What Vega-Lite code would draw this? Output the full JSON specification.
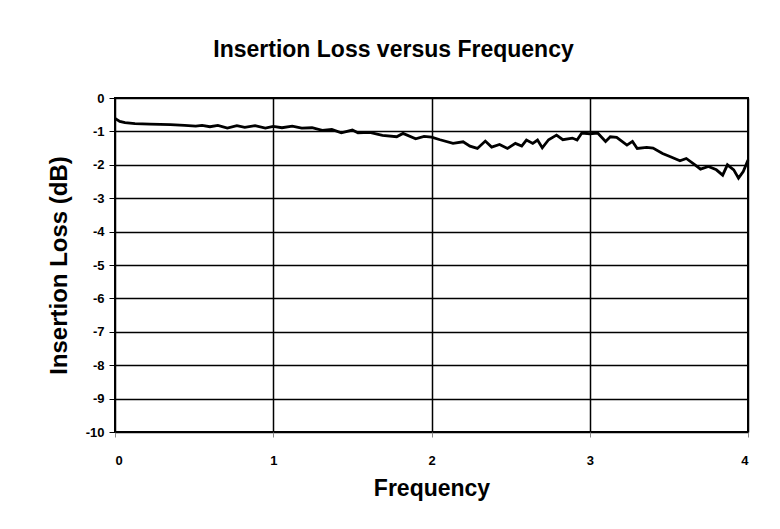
{
  "$schema": "https://vega.github.io/schema/vega-lite/v6.json",
  "width": 633,
  "height": 334,
  "autosize": {"type": "none"},
  "padding": {"left": 115, "top": 98, "right": 32, "bottom": 97},
  "background": "white",
  "title": {
    "text": "Insertion Loss versus Frequency",
    "font": "Liberation Sans",
    "fontSize": 23,
    "fontWeight": "bold",
    "color": "black",
    "anchor": "middle",
    "offset": 30,
    "dx": -38
  },
  "config": {
    "view": {"stroke": "black", "strokeWidth": 2},
    "axis": {
      "labelFont": "Liberation Sans",
      "labelFontSize": 13,
      "labelFontWeight": "bold",
      "labelColor": "black",
      "titleFont": "Liberation Sans",
      "titleFontSize": 23,
      "titleFontWeight": "bold",
      "titleColor": "black",
      "gridColor": "black",
      "gridWidth": 1.5,
      "gridOpacity": 1,
      "domain": false,
      "tickColor": "black",
      "tickSize": 6,
      "labelExpr": "'' + datum.value"
    }
  },
  "data": {
    "values": [
      {"f": 0.0, "loss": -0.61},
      {"f": 0.03, "loss": -0.70},
      {"f": 0.063, "loss": -0.74},
      {"f": 0.126, "loss": -0.77},
      {"f": 0.22, "loss": -0.78},
      {"f": 0.35, "loss": -0.80},
      {"f": 0.44, "loss": -0.82},
      {"f": 0.51, "loss": -0.84},
      {"f": 0.55, "loss": -0.82},
      {"f": 0.60, "loss": -0.86},
      {"f": 0.65, "loss": -0.82},
      {"f": 0.71, "loss": -0.90},
      {"f": 0.77, "loss": -0.83},
      {"f": 0.82, "loss": -0.88},
      {"f": 0.885, "loss": -0.83},
      {"f": 0.95, "loss": -0.90},
      {"f": 1.0, "loss": -0.85},
      {"f": 1.055, "loss": -0.89},
      {"f": 1.12, "loss": -0.84},
      {"f": 1.18, "loss": -0.90},
      {"f": 1.245, "loss": -0.89},
      {"f": 1.31, "loss": -0.97},
      {"f": 1.37, "loss": -0.94},
      {"f": 1.43, "loss": -1.04},
      {"f": 1.50, "loss": -0.96},
      {"f": 1.535, "loss": -1.04},
      {"f": 1.61, "loss": -1.03},
      {"f": 1.69, "loss": -1.12},
      {"f": 1.78, "loss": -1.16},
      {"f": 1.82, "loss": -1.06},
      {"f": 1.90, "loss": -1.22},
      {"f": 1.953, "loss": -1.15},
      {"f": 2.0, "loss": -1.17},
      {"f": 2.054, "loss": -1.25},
      {"f": 2.136, "loss": -1.36},
      {"f": 2.20, "loss": -1.31},
      {"f": 2.243, "loss": -1.44},
      {"f": 2.29, "loss": -1.51},
      {"f": 2.34, "loss": -1.29},
      {"f": 2.38, "loss": -1.47},
      {"f": 2.43, "loss": -1.39},
      {"f": 2.48, "loss": -1.51},
      {"f": 2.53, "loss": -1.36},
      {"f": 2.57, "loss": -1.44},
      {"f": 2.60, "loss": -1.26},
      {"f": 2.64, "loss": -1.36},
      {"f": 2.67, "loss": -1.26},
      {"f": 2.70, "loss": -1.49},
      {"f": 2.74, "loss": -1.25},
      {"f": 2.79, "loss": -1.11},
      {"f": 2.83, "loss": -1.25},
      {"f": 2.89, "loss": -1.20},
      {"f": 2.92, "loss": -1.26},
      {"f": 2.95, "loss": -1.05},
      {"f": 3.0, "loss": -1.07},
      {"f": 3.05, "loss": -1.05},
      {"f": 3.10, "loss": -1.30},
      {"f": 3.13, "loss": -1.16},
      {"f": 3.17, "loss": -1.18},
      {"f": 3.235, "loss": -1.41},
      {"f": 3.27, "loss": -1.30},
      {"f": 3.30, "loss": -1.51},
      {"f": 3.36, "loss": -1.48},
      {"f": 3.40, "loss": -1.50},
      {"f": 3.46, "loss": -1.66},
      {"f": 3.51, "loss": -1.76},
      {"f": 3.57, "loss": -1.88},
      {"f": 3.61, "loss": -1.81},
      {"f": 3.665, "loss": -2.00},
      {"f": 3.70, "loss": -2.13},
      {"f": 3.75, "loss": -2.05},
      {"f": 3.80, "loss": -2.15},
      {"f": 3.84, "loss": -2.31},
      {"f": 3.87, "loss": -2.00},
      {"f": 3.91, "loss": -2.15},
      {"f": 3.94, "loss": -2.40},
      {"f": 3.97, "loss": -2.20},
      {"f": 4.0, "loss": -1.86}
    ]
  },
  "mark": {"type": "line", "color": "black", "strokeWidth": 2.8, "interpolate": "linear"},
  "encoding": {
    "x": {
      "field": "f",
      "type": "quantitative",
      "title": "Frequency",
      "scale": {"domain": [0, 4], "nice": false, "zero": false},
      "axis": {
        "values": [0, 1, 2, 3, 4],
        "tickColor": "#888888",
        "tickSize": 5,
        "labelPadding": 17,
        "titlePadding": 10
      }
    },
    "y": {
      "field": "loss",
      "type": "quantitative",
      "title": "Insertion Loss (dB)",
      "scale": {"domain": [-10, 0], "nice": false},
      "axis": {
        "values": [0, -1, -2, -3, -4, -5, -6, -7, -8, -9, -10],
        "labelPadding": 5,
        "titleFontSize": 24,
        "titlePadding": 14
      }
    }
  }
}
